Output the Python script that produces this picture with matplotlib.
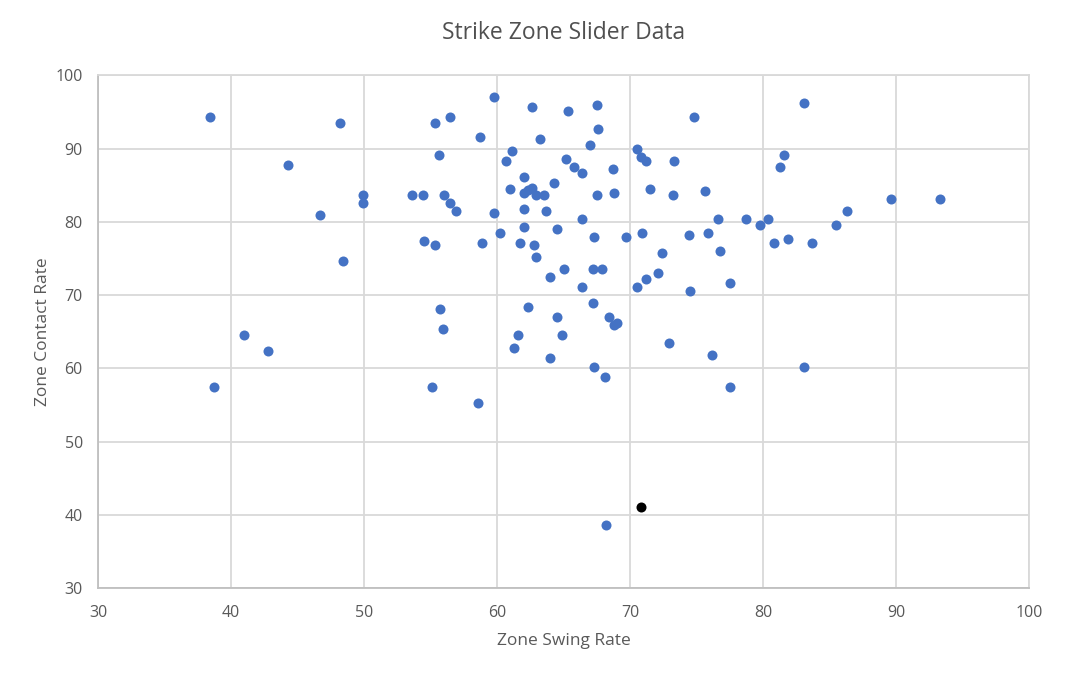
import matplotlib
matplotlib.use("Agg")
import matplotlib.pyplot as plt

# --------------------- Data --------------------- #
swing_rate = [
    38.4, 48.2, 55.3, 56.5, 58.7, 59.8, 62.6, 65.3, 63.2, 44.3,
    55.6, 61.1, 60.7, 65.2, 62.0, 64.3, 61.0, 62.0, 62.3, 62.6,
    62.9, 63.5, 53.6, 54.4, 56.0, 56.5, 56.9, 49.9, 49.9, 46.7,
    48.4, 59.8, 62.0, 63.7, 62.0, 60.2, 64.5, 54.5, 55.3, 58.9,
    61.7, 62.8, 62.9, 65.0, 64.0, 55.7, 55.9, 62.3, 64.5, 61.6,
    64.9, 61.3, 64.0, 41.0, 42.8, 38.7, 55.1, 58.6,
    67.5, 67.6, 67.0, 74.8, 83.1, 65.8, 66.4, 68.7, 70.5, 70.8,
    71.2, 73.3, 81.6, 81.3, 67.5, 68.8, 71.5, 73.2, 75.6, 89.6,
    93.3, 86.3, 85.5, 66.4, 76.6, 78.7, 80.4, 79.8, 67.3, 69.7,
    70.9, 74.4, 75.9, 80.8, 81.9, 83.7, 76.8, 72.4, 67.2, 67.9,
    72.1, 71.2, 70.5, 66.4, 74.5, 77.5, 67.2, 68.4, 68.8, 69.0,
    72.9, 76.2, 67.3, 68.1, 77.5, 83.1, 68.2,
]
contact_rate = [
    94.3, 93.5, 93.5, 94.3, 91.6, 97.0, 95.7, 95.1, 91.3, 87.8,
    89.1, 89.7, 88.3, 88.6, 86.1, 85.3, 84.5, 83.9, 84.3, 84.6,
    83.7, 83.7, 83.7, 83.7, 83.7, 82.6, 81.5, 83.7, 82.6, 80.9,
    74.7, 81.2, 81.8, 81.5, 79.3, 78.5, 79.0, 77.4, 76.8, 77.1,
    77.1, 76.8, 75.2, 73.6, 72.5, 68.1, 65.4, 68.4, 67.0, 64.6,
    64.6, 62.7, 61.4, 64.6, 62.4, 57.5, 57.5, 55.3,
    95.9, 92.7, 90.5, 94.3, 96.2, 87.5, 86.7, 87.2, 89.9, 88.9,
    88.3, 88.3, 89.1, 87.5, 83.7, 83.9, 84.5, 83.7, 84.2, 83.1,
    83.1, 81.5, 79.6, 80.4, 80.4, 80.4, 80.4, 79.6, 77.9, 77.9,
    78.5, 78.2, 78.5, 77.1, 77.7, 77.1, 76.0, 75.8, 73.6, 73.6,
    73.0, 72.2, 71.1, 71.1, 70.6, 71.7, 68.9, 67.0, 65.9, 66.2,
    63.5, 61.8, 60.2, 58.8, 57.5, 60.2, 38.6,
]

# highlighted pitcher (black dot)
highlight_swing = [70.8]
highlight_contact = [41.1]

# --------------------- Plot --------------------- #
plt.rcParams['font.family'] = ['Open Sans', 'DejaVu Sans']
text_color = '#595959'
grid_color = '#D9D9D9'

fig = plt.figure(figsize=(10.68, 6.78), dpi=100)
ax = fig.add_axes([0.0918, 0.1327, 0.8717, 0.7563])

ax.scatter(swing_rate, contact_rate, s=52, color='#4472C4', zorder=3, linewidths=0)
ax.scatter(highlight_swing, highlight_contact, s=52, color='black', zorder=4, linewidths=0)

ax.set_xlim(30, 100)
ax.set_ylim(30, 100)
ax.set_xticks(range(30, 101, 10))
ax.set_yticks(range(30, 101, 10))
ax.grid(True, color=grid_color, linewidth=1.3, zorder=0)
ax.set_axisbelow(True)

for side in ['top', 'right', 'left', 'bottom']:
    ax.spines[side].set_color(grid_color)
    ax.spines[side].set_linewidth(1.3)
ax.spines['left'].set_color('#BFBFBF')
ax.spines['bottom'].set_color('#BFBFBF')

ax.tick_params(axis='x', length=0, labelsize=11.5, colors=text_color, pad=12)
ax.tick_params(axis='y', length=0, labelsize=11.5, colors=text_color, pad=11)
ax.set_title("Strike Zone Slider Data", fontsize=16.5, color='#505050', pad=26)
ax.set_xlabel("Zone Swing Rate", fontsize=12.5, color=text_color, labelpad=9)
ax.set_ylabel("Zone Contact Rate", fontsize=12.5, color=text_color, labelpad=3)

plt.savefig("out.png", dpi=100)
plt.close()
